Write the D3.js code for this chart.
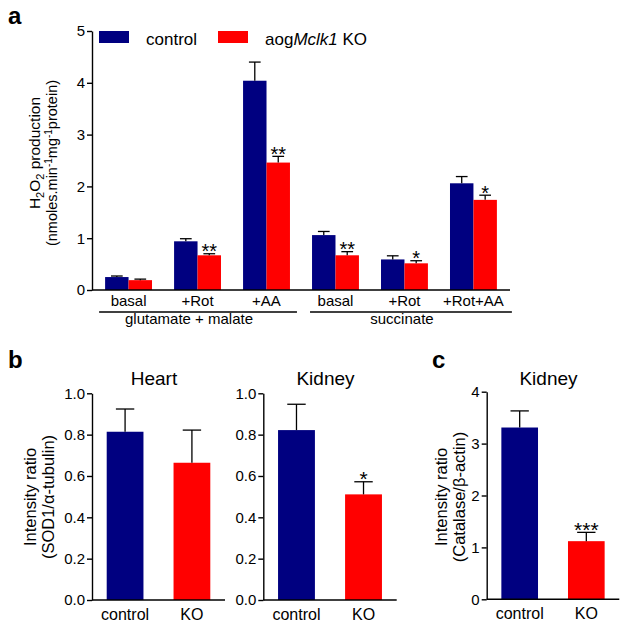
<!DOCTYPE html>
<html>
<head>
<meta charset="utf-8">
<script src="https://cdn.jsdelivr.net/npm/d3@7"></script>
<style>
  html, body { margin: 0; padding: 0; background: #fff; }
  svg { display: block; font-family: "Liberation Sans", Arial, sans-serif; }
</style>
</head>
<body>
<svg id="chart" width="629" height="628"></svg>
<script>
// ---------------- DATA ----------------
const seriesNames = ["control", "KO"];
const categoriesA = ["basal", "+Rot", "+AA", "basal", "+Rot", "+Rot+AA"];
const substrateGroups = ["glutamate + malate", "succinate"];
const substrateOf = [0, 0, 0, 1, 1, 1];
const controlA = [0.25, 0.94, 4.04, 1.06, 0.59, 2.06];
const controlAErr = [0.02, 0.05, 0.36, 0.07, 0.07, 0.13];
const koA = [0.19, 0.67, 2.46, 0.67, 0.515, 1.74];
const koAErr = [0.02, 0.03, 0.12, 0.07, 0.05, 0.09];
const sigA = ["", "**", "**", "**", "*", "*"];
const ticksA = [0, 1, 2, 3, 4, 5];

const categoriesB = ["control", "KO"];
const heartSOD1 = [0.814, 0.664];
const heartSOD1Err = [0.11, 0.158];
const heartSig = ["", ""];
const kidneySOD1 = [0.822, 0.511];
const kidneySOD1Err = [0.125, 0.061];
const kidneySig = ["", "*"];
const ticksB = [0, 0.2, 0.4, 0.6, 0.8, 1.0];

const kidneyCatalase = [3.31, 1.12];
const kidneyCatalaseErr = [0.32, 0.17];
const catalaseSig = ["", "***"];
const ticksC = [0, 1, 2, 3, 4];

// ---------------- STYLE ----------------
const BLUE = "#000080", RED = "#ff0000";
const colors = [BLUE, RED];
const FONT = '"Liberation Sans", Arial, sans-serif';
const svg = d3.select("#chart");

function styleAxis(g, fs) {
  g.select(".domain").attr("stroke", "#000").attr("stroke-width", 1.4);
  g.selectAll(".tick line").attr("stroke", "#000").attr("stroke-width", 1.4);
  g.selectAll(".tick text").attr("fill", "#000").attr("font-size", fs).attr("font-family", FONT);
}

function errorBar(g, cx, yTop, yCap, capW) {
  g.append("line").attr("x1", cx).attr("x2", cx).attr("y1", yTop).attr("y2", yCap)
    .attr("stroke", "#000").attr("stroke-width", 1.3);
  g.append("line").attr("x1", cx - capW / 2).attr("x2", cx + capW / 2).attr("y1", yCap).attr("y2", yCap)
    .attr("stroke", "#000").attr("stroke-width", 1.3);
}

function star(g, cx, yCap, s, fs) {
  if (!s) return;
  g.append("text").attr("x", cx).attr("y", yCap + fs * 0.32)
    .attr("text-anchor", "middle").attr("font-size", fs).attr("font-family", FONT)
    .attr("fill", "#000").text(s);
}

// ---------------- PANEL A ----------------
{
  const x0 = 92, x1 = 510, yB = 290, yT = 31;
  const g = svg.append("g");
  const x = d3.scaleBand().domain(d3.range(categoriesA.length)).range([x0, x1])
    .paddingInner(0.32).paddingOuter(0.19);
  const xs = d3.scaleBand().domain([0, 1]).range([0, x.bandwidth()]);
  const y = d3.scaleLinear().domain([0, 5]).range([yB, yT]);

  const series = [
    { vals: controlA, err: controlAErr, sig: categoriesA.map(() => "") },
    { vals: koA, err: koAErr, sig: sigA }
  ];
  series.forEach((s, si) => {
    s.vals.forEach((v, i) => {
      const bx = x(i) + xs(si);
      g.append("rect").attr("x", bx).attr("y", y(v)).attr("width", xs.bandwidth())
        .attr("height", y(0) - y(v)).attr("fill", colors[si]);
      const cx = bx + xs.bandwidth() / 2;
      errorBar(g, cx, y(v), y(v + s.err[i]), xs.bandwidth() / 2);
      star(g, cx, y(v + s.err[i]) - 2, s.sig[i], 20);
    });
  });

  const ya = g.append("g").attr("transform", `translate(${x0},0)`)
    .call(d3.axisLeft(y).tickValues(ticksA).tickFormat(d3.format("d")).tickSize(5).tickSizeOuter(0).tickPadding(2));
  styleAxis(ya, 15);
  g.append("line").attr("x1", x0).attr("x2", x1).attr("y1", yB).attr("y2", yB)
    .attr("stroke", "#000").attr("stroke-width", 1.4);

  categoriesA.forEach((c, i) => {
    g.append("text").attr("x", x(i) + x.bandwidth() / 2).attr("y", 306)
      .attr("text-anchor", "middle").attr("font-size", 15).attr("font-family", FONT).text(c);
  });

  // substrate group lines
  const lineExt = [[-6, 7], [-2, 15]];
  substrateGroups.forEach((name, gi) => {
    const idx = substrateOf.map((s, i) => s === gi ? i : -1).filter(i => i >= 0);
    const a = x(idx[0]) + lineExt[gi][0];
    const b = x(idx[idx.length - 1]) + x.bandwidth() + lineExt[gi][1];
    g.append("line").attr("x1", a).attr("x2", b).attr("y1", 312).attr("y2", 312)
      .attr("stroke", "#000").attr("stroke-width", 1.4);
    g.append("text").attr("x", (a + b) / 2 - 9).attr("y", 323.5)
      .attr("text-anchor", "middle").attr("font-size", 15).attr("font-family", FONT).text(name);
  });

  // y label
  const l1 = g.append("text").attr("transform", "translate(40,153) rotate(-90)")
    .attr("text-anchor", "middle").attr("font-size", 15.5).attr("font-family", FONT);
  l1.append("tspan").text("H");
  l1.append("tspan").attr("font-size", 11).attr("dy", 4).text("2");
  l1.append("tspan").attr("dy", -4).text("O");
  l1.append("tspan").attr("font-size", 11).attr("dy", 4).text("2");
  l1.append("tspan").attr("dy", -4).text(" production");
  const l2 = g.append("text").attr("transform", "translate(57,163) rotate(-90)")
    .attr("text-anchor", "middle").attr("font-size", 14.5).attr("font-family", FONT);
  l2.append("tspan").text("(nmoles.min");
  l2.append("tspan").attr("font-size", 10).attr("dy", -5).text("-1");
  l2.append("tspan").attr("dy", 5).text("mg");
  l2.append("tspan").attr("font-size", 10).attr("dy", -5).text("-1");
  l2.append("tspan").attr("dy", 5).text("protein)");

  // legend
  const legX = [99, 218];
  const lg = g.append("g");
  seriesNames.forEach((n, i) => {
    lg.append("rect").attr("x", legX[i]).attr("y", 31).attr("width", 30).attr("height", 12).attr("fill", colors[i]);
  });
  lg.append("text").attr("x", 146).attr("y", 44.5).attr("font-size", 17).attr("font-family", FONT).text(seriesNames[0]);
  const t2 = lg.append("text").attr("x", 265).attr("y", 44.5).attr("font-size", 17).attr("font-family", FONT);
  t2.append("tspan").text("aog");
  t2.append("tspan").attr("font-style", "italic").text("Mclk1");
  t2.append("tspan").text(" " + seriesNames[1]);

  svg.append("text").attr("x", 8).attr("y", 23.5).attr("font-size", 24).attr("font-weight", "bold")
    .attr("font-family", FONT).text("a");
}

// ---------------- PANELS B, C ----------------
function smallPanel(opts) {
  const { x0, x1, yB, yT, domainMax, ticks, fmt, vals, errs, sigs, title } = opts;
  const g = svg.append("g");
  const x = d3.scaleBand().domain(categoriesB).range([x0, x1]).paddingInner(0.45).paddingOuter(0.22);
  const y = d3.scaleLinear().domain([0, domainMax]).range([yB, yT]);
  vals.forEach((v, i) => {
    const c = categoriesB[i];
    g.append("rect").attr("x", x(c)).attr("y", y(v)).attr("width", x.bandwidth())
      .attr("height", y(0) - y(v)).attr("fill", colors[i]);
    const cx = x(c) + x.bandwidth() / 2;
    errorBar(g, cx, y(v), y(v + errs[i]), x.bandwidth() / 2);
    star(g, cx, y(v + errs[i]) - 2, sigs[i], 21);
    g.append("text").attr("x", cx).attr("y", yB + 20).attr("text-anchor", "middle")
      .attr("font-size", 16).attr("font-family", FONT).text(c);
  });
  const ya = g.append("g").attr("transform", `translate(${x0},0)`)
    .call(d3.axisLeft(y).tickValues(ticks).tickFormat(d3.format(fmt)).tickSize(5).tickSizeOuter(0).tickPadding(2));
  styleAxis(ya, 15);
  g.append("line").attr("x1", x0).attr("x2", x1).attr("y1", yB).attr("y2", yB)
    .attr("stroke", "#000").attr("stroke-width", 1.4);
  g.append("text").attr("x", (x0 + x1) / 2 - 4.5).attr("y", 385).attr("text-anchor", "middle")
    .attr("font-size", 19).attr("font-family", FONT).text(title);
}

smallPanel({ x0: 92, x1: 225, yB: 600, yT: 393.3, domainMax: 1, ticks: ticksB, fmt: ".1f",
  vals: heartSOD1, errs: heartSOD1Err, sigs: heartSig, title: "Heart" });
smallPanel({ x0: 263.3, x1: 396.7, yB: 600, yT: 393.3, domainMax: 1, ticks: ticksB, fmt: ".1f",
  vals: kidneySOD1, errs: kidneySOD1Err, sigs: kidneySig, title: "Kidney" });
smallPanel({ x0: 486.7, x1: 619.3, yB: 599.3, yT: 391.7, domainMax: 4, ticks: ticksC, fmt: "d",
  vals: kidneyCatalase, errs: kidneyCatalaseErr, sigs: catalaseSig, title: "Kidney" });

// y labels b / c
function yLabel(cx1, cx2, cy, line2) {
  svg.append("text").attr("transform", `translate(${cx1},${cy}) rotate(-90)`)
    .attr("text-anchor", "middle").attr("font-size", 16.5).attr("font-family", FONT).text("Intensity ratio");
  svg.append("text").attr("transform", `translate(${cx2},${cy}) rotate(-90)`)
    .attr("text-anchor", "middle").attr("font-size", 16.5).attr("font-family", FONT).text(line2);
}
yLabel(35.5, 54, 497, "(SOD1/\u03b1-tubulin)");
yLabel(447, 465, 497, "(Catalase/\u03b2-actin)");

svg.append("text").attr("x", 8).attr("y", 368).attr("font-size", 24).attr("font-weight", "bold")
  .attr("font-family", FONT).text("b");
svg.append("text").attr("x", 432).attr("y", 368).attr("font-size", 24).attr("font-weight", "bold")
  .attr("font-family", FONT).text("c");
</script>
</body>
</html>
